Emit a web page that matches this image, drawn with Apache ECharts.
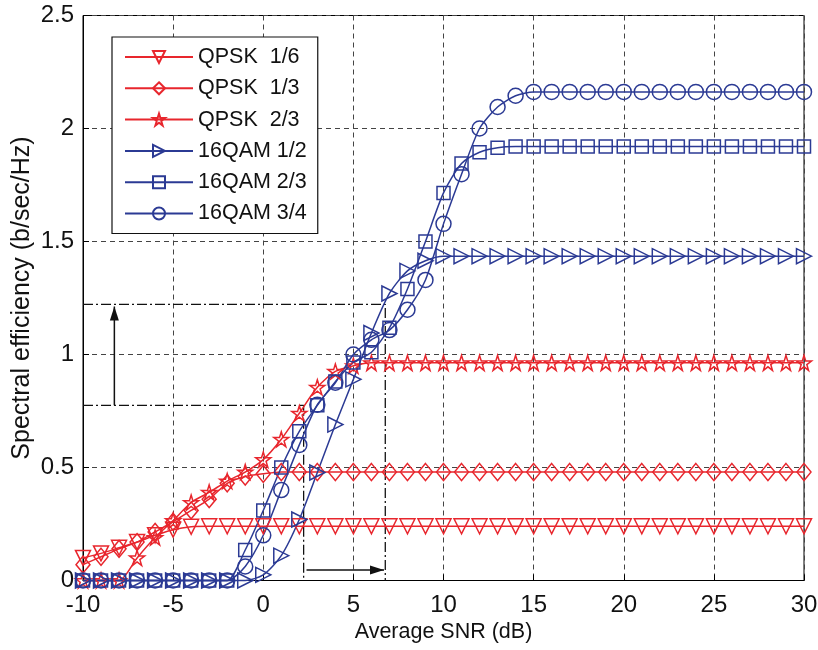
<!DOCTYPE html>
<html>
<head>
<meta charset="utf-8">
<script src="https://cdn.jsdelivr.net/npm/echarts@6/dist/echarts.min.js"></script>
<style>
html,body{margin:0;padding:0;background:#fff;}
#chart{width:818px;height:650px;}
</style>
</head>
<body>
<div id="chart"></div>
<script>
// ---- data ----
var snr = [-10,-9,-8,-7,-6,-5,-4,-3,-2,-1,0,1,2,3,4,5,6,7,8,9,10,11,12,13,14,15,16,17,18,19,20,21,22,23,24,25,26,27,28,29,30];

var qpsk16 = [0.10,0.12,0.145,0.17,0.20,0.225,0.238,0.24,0.24,0.24,0.24,0.24,0.24,0.24,0.24,0.24,0.24,0.24,0.24,0.24,0.24,0.24,0.24,0.24,0.24,0.24,0.24,0.24,0.24,0.24,0.24,0.24,0.24,0.24,0.24,0.24,0.24,0.24,0.24,0.24,0.24];

var qpsk13 = [0.07,0.105,0.14,0.17,0.215,0.26,0.31,0.36,0.43,0.46,0.472,0.48,0.48,0.48,0.48,0.48,0.48,0.48,0.48,0.48,0.48,0.48,0.48,0.48,0.48,0.48,0.48,0.48,0.48,0.48,0.48,0.48,0.48,0.48,0.48,0.48,0.48,0.48,0.48,0.48,0.48];

var qpsk23 = [0,0,0,0.10,0.19,0.265,0.345,0.39,0.44,0.48,0.535,0.625,0.74,0.855,0.925,0.95,0.963,0.963,0.963,0.963,0.963,0.963,0.963,0.963,0.963,0.963,0.963,0.963,0.963,0.963,0.963,0.963,0.963,0.963,0.963,0.963,0.963,0.963,0.963,0.963,0.963];

var qam12 = [0,0,0,0,0,0,0,0,0,0,0.025,0.11,0.27,0.478,0.69,0.89,1.095,1.27,1.37,1.415,1.435,1.435,1.435,1.435,1.435,1.435,1.435,1.435,1.435,1.435,1.435,1.435,1.435,1.435,1.435,1.435,1.435,1.435,1.435,1.435,1.435];

var qam23 = [0,0,0,0,0,0,0,0,0,0.135,0.31,0.50,0.66,0.775,0.88,0.965,1.01,1.118,1.29,1.50,1.715,1.845,1.895,1.915,1.92,1.92,1.92,1.92,1.92,1.92,1.92,1.92,1.92,1.92,1.92,1.92,1.92,1.92,1.92,1.92,1.92];

var qam34 = [0,0,0,0,0,0,0,0,0,0.062,0.20,0.40,0.60,0.778,0.875,1.0,1.065,1.108,1.198,1.33,1.578,1.798,2.0,2.095,2.145,2.162,2.162,2.162,2.162,2.162,2.162,2.162,2.162,2.162,2.162,2.162,2.162,2.162,2.162,2.162,2.162];

var seriesNames = ['QPSK  1/6','QPSK  1/3','QPSK  2/3','16QAM 1/2','16QAM 2/3','16QAM 3/4'];

// annotation guide lines (dash-dot) and arrows
var guideLow  = [[-10,0.775],[2.24,0.775],[2.24,0]];
var guideHigh = [[-10,1.222],[6.77,1.222],[6.77,0]];
var arrowUp    = [[-8.26,0.775],[-8.26,1.212]];
var arrowRight = [[2.4,0.046],[6.7,0.046]];

var xTicks = {min:-10, max:30, step:5};
var yTicks = {min:0, max:2.5, step:0.5};

// ---- styling ----
var RED = '#E8262D', BLUE = '#2B3A94';
var FONT = "'Liberation Sans', Arial, Helvetica, sans-serif";
var STAR = 'path://M50,2 L61,37 L98,37 L68,59 L79,95 L50,73 L21,95 L32,59 L2,37 L39,37 Z';

function zip(xs, ys){ return xs.map(function(x,i){ return [x, ys[i]]; }); }

function mk(name, ys, color, symbol, size, rot){
  return {
    name: name, type: 'line', data: zip(snr, ys),
    symbol: symbol, symbolSize: size, symbolRotate: rot || 0,
    showAllSymbol: true, smooth: 0.25, clip: false,
    lineStyle: {color: color, width: 1.5},
    itemStyle: {color: 'rgba(255,255,255,0)', borderColor: color, borderWidth: 1.5},
    emphasis: {disabled: true}, z: 3
  };
}

var chart = echarts.init(document.getElementById('chart'), null, {renderer:'canvas'});

var guideStyle = {color:'#111', width:1.3, type:[10,3,2,3]};

var option = {
  animation: false,
  backgroundColor: '#fff',
  textStyle: {fontFamily: FONT},
  grid: {left: 83, right: 14, top: 15.5, bottom: 69.5, containLabel: false, outerBoundsMode: 'none',
         show: true, borderColor: '#000', borderWidth: 1, backgroundColor: 'transparent'},
  legend: {
    data: seriesNames, orient: 'vertical', left: 112, top: 37,
    itemWidth: 68, itemHeight: 15, itemGap: 9.3,
    padding: [9, 11, 9, 12],
    backgroundColor: '#fff', borderColor: '#111', borderWidth: 1.2, borderRadius: 0,
    textStyle: {fontFamily: FONT, fontSize: 21.5, color: '#111', lineHeight: 22},
    selectedMode: false
  },
  xAxis: {
    type: 'value', min: xTicks.min, max: xTicks.max, interval: xTicks.step,
    name: 'Average SNR (dB)', nameLocation: 'middle', nameGap: 41, nameMoveOverlap: false,
    nameTextStyle: {fontFamily: FONT, fontSize: 21.5, color: '#111'},
    axisLine: {show: true, onZero: false, lineStyle: {color: '#000', width: 1}},
    axisTick: {show: true, inside: true, length: 6, lineStyle: {color:'#000'}},
    axisLabel: {fontFamily: FONT, fontSize: 24, color: '#111', margin: 13, hideOverlap: false},
    splitLine: {show: true, lineStyle: {color: '#444', width: 1, type: [5,4]}}
  },
  yAxis: {
    type: 'value', min: yTicks.min, max: yTicks.max, interval: yTicks.step,
    name: 'Spectral efficiency (b/sec/Hz)', nameLocation: 'middle', nameGap: 48, nameMoveOverlap: false,
    nameTextStyle: {fontFamily: FONT, fontSize: 25, color: '#111'},
    axisLine: {show: true, onZero: false, lineStyle: {color: '#000', width: 1}},
    axisTick: {show: true, inside: true, length: 6, lineStyle: {color:'#000'}},
    axisLabel: {fontFamily: FONT, fontSize: 24, color: '#111', margin: 9},
    splitLine: {show: true, lineStyle: {color: '#444', width: 1, type: [5,4]}}
  },
  series: [
    {type:'line', data: guideLow, symbol:'none', lineStyle: guideStyle, z:2, silent:true},
    {type:'line', data: guideHigh, symbol:'none', lineStyle: guideStyle, z:2, silent:true},
    {type:'line', symbol:'none', lineStyle:{color:'#111', width:1.5}, z:2, silent:true,
      data: [{value: arrowUp[0]}, {value: arrowUp[1], symbol:'triangle', symbolSize:[9,14], symbolOffset:[0,7], itemStyle:{color:'#111'}}]},
    {type:'line', symbol:'none', lineStyle:{color:'#111', width:1.5}, z:2, silent:true,
      data: [{value: arrowRight[0]}, {value: arrowRight[1], symbol:'triangle', symbolRotate:-90, symbolSize:[9,14], symbolOffset:[-7,0], itemStyle:{color:'#111'}}]},
    mk(seriesNames[0], qpsk16, RED, 'triangle', 15, 180),
    mk(seriesNames[1], qpsk13, RED, 'diamond', [14,17], 0),
    mk(seriesNames[2], qpsk23, RED, STAR, 15, 0),
    mk(seriesNames[3], qam12, BLUE, 'triangle', 15, -90),
    mk(seriesNames[4], qam23, BLUE, 'rect', 13, 0),
    mk(seriesNames[5], qam34, BLUE, 'circle', 15, 0)
  ]
};
chart.setOption(option);
</script>
</body>
</html>
